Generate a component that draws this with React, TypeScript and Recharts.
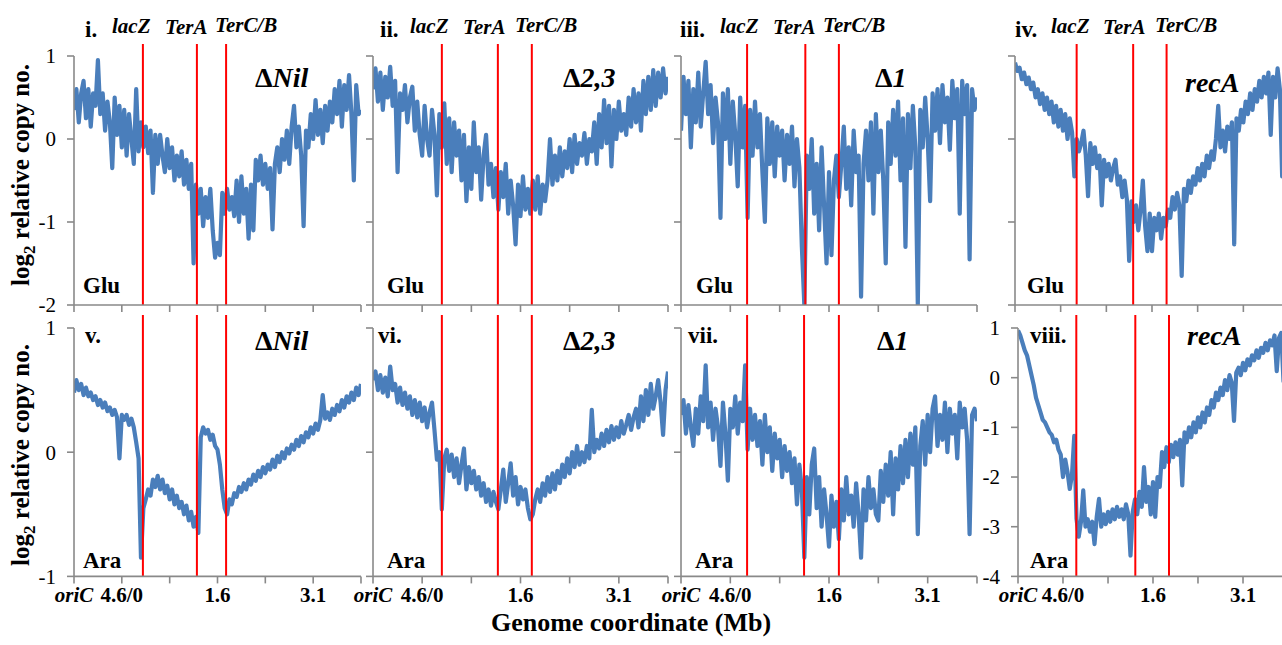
import React from 'react';
import { LineChart, Line, XAxis, YAxis, ReferenceLine } from 'recharts';

// ---------- data ----------
const genomeSpanMb = 4.64; // distance from oriC (Mb)
const xTicks = [0, 0.773, 1.547, 2.32, 3.093, 3.867, 4.64];
const xTickLabels = ['oriC', '4.6/0', '', '1.6', '', '3.1', ''];
const yTicksStd = [-2, -1, 0, 1];
const yTicksAra = [-1, 0, 1];
const yTicksRecAAra = [-4, -3, -2, -1, 0, 1];

// log2 relative copy number, Glu (top row)
const gluNil = [0.35, 0.6, 0.2, 0.55, 0.7, 0.25, 0.6, 0.15, 0.55, 0.4, 0.95, 0.3,
  0.55, 0.1, 0.45, 0.2, -0.35, 0.5, 0.05, 0.4, -0.1, 0.35, -0.2, 0.3, 0.0, -0.3, 0.6, -0.15,
  0.2, -0.1, 0.15, -0.17, 0.1, -0.65, 0.05,
  -0.3, 0.05, -0.2, -0.4, 0.0, -0.35, -0.1, -0.5, -0.2, -0.45, -0.15, -0.55, -0.25, -0.6, -0.3,
  -1.5,
  -0.55, -0.9, -0.6, -1.05, -0.7, -0.95, -0.6, -1.1,
  -1.43, -1.25, -1.4,
  -0.65, -0.9, -0.6, -0.85, -0.7, -0.93,
  -0.5, -1.0, -0.45, -0.9, -0.6, -1.2, -0.55, -1.1,
  -0.25, -0.5, -0.2, -0.55, -0.3, -0.6, -0.35, -1.09,
  -0.3, -0.1, -0.4, 0.0, -0.25, 0.1, -0.3, 0.15, 0.4, -0.1, 0.15, -0.2,
  -1.05,
  0.1, -0.1, 0.3, 0.0, 0.47, 0.05, 0.35, -0.05, 0.4, 0.1, 0.45,
  0.2, 0.6, 0.3, 0.7, 0.15, 0.65, 0.35, 0.77, 0.3, -0.5, 0.65, 0.3, 0.35];
const glu23 = [0.6, 0.85, 0.45, 0.8, 0.35, 0.75, 0.5, 0.87, 0.4, 0.7, -0.4, 0.55, 0.35,
  0.65, 0.2, 0.5, 0.63, 0.1, 0.45, 0.05, -0.2, 0.4, 0.0, -0.2, 0.35, 0.05, -0.68, 0.3,
  -0.1, 0.43, -0.3, 0.25, -0.4, 0.2, -0.2, 0.1, -0.5, 0.05, -0.75,
  -0.1, -0.6, 0.2, -0.4, -0.1, -0.73, -0.2, 0.05, -0.55, -0.3, -0.7, -0.35,
  -0.85, -0.4, -0.7, -0.3, -0.9, -0.5, -0.8, -1.27, -0.55, -0.93, -0.45, -0.85, -0.6, -0.9,
  -0.5, -0.85, -0.45, -0.9, -0.55, -0.75, -0.5, 0.0,
  -0.55, -0.2, -0.5, -0.1, -0.45, -0.15, -0.35, 0.0, -0.4, 0.05, -0.3, -0.05, -0.2, 0.07, -0.3, 0.0, -0.15,
  0.2, -0.3, 0.3, -0.1, 0.47, -0.05, 0.4, -0.33, 0.35, 0.0, 0.45, 0.1, 0.3, 0.05,
  0.5, 0.15, 0.6, 0.2, 0.55, 0.1, 0.7, 0.3, 0.75, 0.35, 0.83, 0.4, 0.8, 0.5, 0.85, 0.55, 0.75];
const glu1 = [0.1, 0.75, 0.3, 0.7, -0.1, 0.6, 0.2, 0.8, 0.15, 0.55, 0.93, 0.3, 0.65, -0.05, 0.5, 0.2,
  -0.95, 0.55, 0.0, 0.6, -0.3, 0.45, 0.05, -0.57, 0.5, -0.1, 0.4, -0.95,
  0.35, -0.2, 0.45, -0.1, 0.3, -0.4, -1.0, 0.25, -0.3, 0.2, -0.45, 0.15, -0.2, 0.1, -0.5, 0.05, -0.3, 0.15, -0.57, 0.0, -0.35,
  -1.3, -2.0,
  -0.2, -0.6, 0.0, -0.9, -0.3, -1.1, -0.1, -0.8, -1.5, -0.4, -1.4, -0.5, -0.2, -0.7,
  -0.3, 0.15, -0.6, -0.1, -0.8, 0.1, -0.4, -0.2, -1.9, -0.3, 0.1,
  -0.5, 0.2, -0.9, 0.3, -0.4, 0.1, -0.5, -1.5, 0.2, -0.3, 0.35, -0.2, 0.45, -0.5, 0.25, -1.3, 0.3, -0.35, 0.4, -0.1, -2.0, 0.35,
  -0.1, 0.5, 0.0, -0.75, 0.55, 0.1, 0.6, -0.05, 0.65, 0.2, 0.5, -0.13, 0.7, 0.25, 0.6, -0.9, 0.7, 0.3, 0.65, -1.45, 0.6, 0.35, 0.5];
const gluRecA = [0.92, 0.82, 0.86, 0.72, 0.8, 0.66, 0.74, 0.6,
  0.68, 0.5, 0.6, 0.42, 0.55, 0.35, 0.5, 0.3, 0.45, 0.2, 0.4, 0.15, 0.35, 0.1, 0.3, 0.0, 0.25, 0.08,
  -0.45,
  0.0, -0.15, -0.05, 0.1, -0.2, -0.69,
  -0.05, -0.3, -0.1, -0.35, -0.2, -0.8, -0.25, -0.45, -0.3, -0.5, -0.35, -0.25, -0.55, -0.45, -0.7, -0.5, -0.73,
  -1.47,
  -0.75, -1.0, -0.8, -1.1, -0.85, -0.5, -1.05, -1.35, -0.9, -1.35, -0.95, -1.1, -0.9, -1.2, -0.95, -1.05,
  -0.85, -0.95, -0.7, -0.85, -0.65, -0.8, -1.65, -0.6, -0.75, -0.5, -0.65, -0.45, -0.55, -0.35, -0.5, -0.3, -0.45, -0.2, -0.35, -0.15, -0.25,
  0.0, 0.4, -0.1, 0.1, -0.15, 0.15, 0.0, 0.2,
  -1.27,
  0.25, 0.1, 0.35, 0.2, 0.45, 0.3, 0.55, 0.35, 0.6, 0.45, 0.7, 0.5, 0.75, 0.55, 0.8, 0.05, 0.75, 0.5, 0.85, 0.6, -0.45, 0.7, 0.8, 0.75];

// log2 relative copy number, Ara (bottom row)
const araNil = [0.48, 0.58, 0.5, 0.55, 0.46, 0.52,
  0.45, 0.48, 0.42, 0.45, 0.38, 0.42, 0.36, 0.4, 0.33, 0.36, 0.3, 0.34, 0.28,
  -0.05,
  0.3, 0.26, 0.3, 0.22, 0.27, 0.2,
  0.08, -0.05, -0.85, -0.45,
  -0.38, -0.3, -0.35, -0.22, -0.28, -0.19,
  -0.3, -0.22, -0.33, -0.27, -0.38, -0.3, -0.42, -0.35, -0.45, -0.4, -0.5, -0.43, -0.55, -0.48, -0.6, -0.52,
  -0.65, 0.12, 0.2,
  0.15, 0.18, 0.1, 0.14, 0.05,
  0.02, -0.1, -0.3, -0.45,
  -0.5, -0.38, -0.42, -0.33, -0.36, -0.28, -0.32,
  -0.25, -0.3, -0.22, -0.26, -0.18, -0.23, -0.15, -0.2, -0.12, -0.17,
  -0.1, -0.14, -0.06, -0.12, -0.03, -0.08, 0.0, -0.05, 0.03, -0.01,
  0.06, 0.02, 0.1, 0.05, 0.13, 0.08, 0.16, 0.12, 0.2, 0.15,
  0.23, 0.18, 0.26, 0.46, 0.27, 0.32, 0.26, 0.35, 0.3, 0.38,
  0.33, 0.42, 0.36, 0.45, 0.4, 0.48, 0.42, 0.52, 0.46, 0.55];
const ara23 = [0.58, 0.65, 0.5, 0.62, 0.48, 0.6, 0.45, 0.69, 0.5,
  0.55, 0.4, 0.52, 0.38, 0.48, 0.35, 0.45, 0.3, 0.42, 0.28, 0.4, 0.25, 0.36, 0.2, 0.32, 0.4, 0.18,
  -0.06, 0.0, -0.46,
  -0.05, 0.02, -0.15, -0.02, -0.2, -0.05, -0.25, -0.1, 0.03, -0.3, -0.12,
  -0.25, -0.15, -0.3, -0.2, -0.35, -0.25, -0.4, -0.3, -0.43, -0.32, -0.4,
  -0.46,
  -0.3, -0.14, -0.4, -0.25, -0.09, -0.35, -0.2, -0.42, -0.28, -0.38, -0.3,
  -0.45, -0.54, -0.5,
  -0.38, -0.3, -0.4, -0.25, -0.35, -0.2, -0.32, -0.17, -0.3, -0.15, -0.25,
  -0.1, -0.2, -0.05, -0.17, 0.0, -0.12, 0.05, -0.1, 0.0, -0.08, 0.05, -0.05, 0.34,
  0.0, 0.1, 0.03, 0.15, 0.05, 0.18, 0.08, 0.21, 0.1, 0.2, 0.12, 0.25, 0.15, 0.22, 0.3, 0.18, 0.28,
  0.35, 0.2, 0.45, 0.25, 0.5, 0.3, 0.55, 0.35, 0.45, 0.58, 0.4, 0.14, 0.5, 0.65];
const ara1 = [0.3, 0.42, 0.15, 0.38, 0.2, 0.05, 0.35, 0.15, 0.45, 0.25, 0.7, 0.2, 0.4, 0.1, 0.35, 0.2, -0.11, 0.4, 0.15, -0.23, 0.35, 0.2, 0.45, 0.15, 0.4, 0.25,
  0.7, 0.02,
  0.35, 0.1, 0.3, 0.05, 0.25, -0.1, 0.3, 0.0, 0.2, -0.15, 0.15, -0.05, 0.1, -0.2, 0.05, -0.15, 0.0, -0.25, -0.05, -0.42, -0.1, -0.3,
  -0.85,
  -0.2, -0.5, -0.1, 0.03, -0.45, -0.2, -0.6, -0.3, -0.5, -0.76, -0.35, -0.6, -0.4, -0.7,
  -0.3, -0.55, -0.2, -0.5, -0.35, -0.6, -0.25, -0.5, -0.85, -0.3, -0.55, -0.2, -0.45, -0.3, -0.5,
  -0.55, -0.15, -0.4, -0.1, -0.35, 0.0, -0.5, -0.05, -0.3, 0.05, -0.25, 0.1, -0.2, 0.15, -0.1, 0.2, -0.66, 0.05, 0.25, -0.1, 0.3,
  0.0, 0.35, 0.45, 0.05, 0.3, 0.1, 0.4, 0.0, 0.35, 0.15, 0.3, -0.05, 0.4, 0.2, 0.35, 0.1, -0.66, 0.3, 0.35, 0.25];
const araRecA = [0.95, 0.85, 0.7, 0.55, 0.45,
  0.25, 0.05, -0.15, -0.4, -0.55, -0.7,
  -0.85, -0.9, -1.0, -1.1, -1.15, -1.3, -1.25, -1.45,
  -1.55, -2.0, -1.65, -1.9, -2.24, -1.95,
  -1.17,
  -2.84, -3.2, -2.9,
  -2.27, -3.0, -2.85, -3.1, -2.9, -3.35, -2.8, -2.44, -3.0, -2.75, -2.95, -2.7, -2.9, -2.65, -2.85, -2.6, -2.8, -2.65, -2.85, -2.55, -2.75,
  -3.58, -2.7,
  -2.45, -2.75, -2.3, -2.6, -1.8, -2.5, -2.2, -2.75, -2.1, -2.8, -2.0, -2.2,
  -1.5, -1.8, -1.4, -1.7, -1.35, -1.6, -1.3, -1.55, -1.25, -2.17,
  -1.1, -1.3, -1.0, -1.2, -0.9, -1.1, -0.8, -1.0, -0.7, -0.9, -0.6, -0.75, -0.45,
  -0.6, -0.3, -0.45, -0.2, -0.35, -0.05, -0.25, 0.05, -0.1, -0.87,
  0.1, 0.2, 0.05, 0.3, 0.15, 0.37, 0.25, 0.45, 0.35, 0.55, 0.4, 0.6, 0.5, 0.7, 0.55, 0.75, 0.65, 0.85, 0.13, 0.8, 0.9, -0.07, 0.85, 0.9];

// lacZ, TerA, TerC/B positions (Mb from oriC)
const markersCol1 = [1.114, 1.987, 2.459];
const markersCol2 = [1.083, 1.964, 2.498];
const markersCol3 = [1.036, 1.949, 2.475];
const markersCol3Ara = [1.036, 1.929, 2.475];
const markersRecAGlu = [1.044, 2.001, 2.567];
const markersRecAAra = [1.002, 2.016, 2.595];

const panelNumerals = [['i.', 'v.'], ['ii.', 'vi.'], ['iii.', 'vii.'], ['iv.', 'viii.']];
const strainLabels = ['ΔNil', 'Δ2,3', 'Δ1', 'recA'];
const markerNames = ['lacZ', 'TerA', 'TerC/B'];
const mediaLabels = ['Glu', 'Ara'];

// ---------- styles ----------
const FONT = '"Liberation Serif", "Times New Roman", Times, serif';
const BLUE = '#4a7ebb';
const AXIS = '#898989';

type PanelCfg = {
  values: number[];
  markers: number[];
  yDomain: [number, number];
  yTicks: number[];
  markerTop: number;
  left: number;
  top: number;
  width: number;
  height: number;
  bottomRow: boolean;
  showYLabels: boolean;
};

const XTick = (props: any) => {
  const { x, y, payload } = props;
  const label = xTickLabels[payload.index] ?? '';
  if (!label) return <g />;
  const italic = label === 'oriC';
  return (
    <text x={x} y={y} dy="0.8em" textAnchor="middle" fontFamily={FONT} fontSize={21} fontWeight="bold" fontStyle={italic ? 'italic' : 'normal'} fill="#000">
      {label}
    </text>
  );
};
const EmptyTick = () => <g />;

const ML = 60;
const MT = 22;
const MR = 6;
const XH = 44;

function Panel({ cfg }: { cfg: PanelCfg }) {
  const n = cfg.values.length;
  const data = cfg.values.map((v, i) => ({ x: (i * genomeSpanMb) / (n - 1), y: v }));
  return (
    <div style={{ position: 'absolute', left: cfg.left - ML, top: cfg.top - MT }}>
      <LineChart width={ML + cfg.width + MR} height={MT + cfg.height + XH} data={data} margin={{ top: MT, right: MR, bottom: 0, left: 0 }}>
        <XAxis
          type="number"
          dataKey="x"
          domain={[0, genomeSpanMb]}
          ticks={xTicks}
          interval={0}
          height={XH}
          allowDataOverflow
          axisLine={{ stroke: AXIS, strokeWidth: 1.6 }}
          tickLine={{ stroke: AXIS, strokeWidth: 1.6 }}
          tickSize={7}
          tickMargin={2}
          tick={cfg.bottomRow ? <XTick /> : <EmptyTick />}
        />
        <YAxis
          type="number"
          domain={cfg.yDomain}
          ticks={cfg.yTicks}
          interval={0}
          width={ML}
          allowDataOverflow
          axisLine={{ stroke: AXIS, strokeWidth: 1.6 }}
          tickLine={{ stroke: AXIS, strokeWidth: 1.6 }}
          tickSize={7}
          tickMargin={11}
          tick={cfg.showYLabels ? { fontFamily: FONT, fontSize: 21, fill: '#000' } : <EmptyTick />}
        />
        <Line type="linear" dataKey="y" stroke={BLUE} strokeWidth={4.2} strokeLinejoin="round" dot={false} isAnimationActive={false} />
        {cfg.markers.map((m) => (
          <ReferenceLine
            key={m}
            segment={[{ x: m, y: cfg.yDomain[0] }, { x: m, y: cfg.markerTop }]}
            stroke="#ff0000"
            strokeWidth={2}
            ifOverflow="visible"
          />
        ))}
      </LineChart>
    </div>
  );
}

const TOP = 56;
const BOT = 328.3;
const TOP_H = 249;
const BOT_H = 248.4;

const panels: PanelCfg[] = [
  { values: gluNil, markers: markersCol1, yDomain: [-2, 1], yTicks: yTicksStd, markerTop: 1.145, left: 74, top: TOP, width: 287, height: TOP_H, bottomRow: false, showYLabels: true },
  { values: glu23, markers: markersCol2, yDomain: [-2, 1], yTicks: yTicksStd, markerTop: 1.145, left: 373.3, top: TOP, width: 295, height: TOP_H, bottomRow: false, showYLabels: false },
  { values: glu1, markers: markersCol3, yDomain: [-2, 1], yTicks: yTicksStd, markerTop: 1.145, left: 680.7, top: TOP, width: 296, height: TOP_H, bottomRow: false, showYLabels: false },
  { values: gluRecA, markers: markersRecAGlu, yDomain: [-2, 1], yTicks: yTicksStd, markerTop: 1.145, left: 1015, top: TOP, width: 274, height: TOP_H, bottomRow: false, showYLabels: false },
  { values: araNil, markers: markersCol1, yDomain: [-1, 1], yTicks: yTicksAra, markerTop: 1.105, left: 74, top: BOT, width: 287, height: BOT_H, bottomRow: true, showYLabels: true },
  { values: ara23, markers: markersCol2, yDomain: [-1, 1], yTicks: yTicksAra, markerTop: 1.105, left: 373.3, top: BOT, width: 295, height: BOT_H, bottomRow: true, showYLabels: false },
  { values: ara1, markers: markersCol3Ara, yDomain: [-1, 1], yTicks: yTicksAra, markerTop: 1.105, left: 680.7, top: BOT, width: 296, height: BOT_H, bottomRow: true, showYLabels: false },
  { values: araRecA, markers: markersRecAAra, yDomain: [-4, 1], yTicks: yTicksRecAAra, markerTop: 1.26, left: 1018.3, top: BOT, width: 270, height: BOT_H, bottomRow: true, showYLabels: true },
];

// annotation placement
const numeralX = [[85, 85], [380, 378], [680, 688], [1015, 1030]];
const numeralY = [37, 343];
const markerNameX = [[112, 165, 215], [410, 463, 515], [720, 773, 823], [1051, 1103, 1155]];
const markerNameY = [33, 34, 32];
const strainX = [[255, 255], [563, 563], [875, 877], [1185, 1187]];
const strainY = [[87, 350], [87, 350], [87, 350], [92, 345]];
const mediaX = [[83, 83], [387, 387], [696, 695], [1027, 1030]];
const mediaY = [293, 568];

function StrainText({ label, x, y }: { label: string; x: number; y: number }) {
  const hasDelta = label.startsWith('Δ');
  return (
    <text x={x} y={y} fontFamily={FONT} fontSize={28} fontWeight="bold" fill="#000">
      {hasDelta ? <tspan fontStyle="normal">Δ</tspan> : null}
      <tspan fontStyle="italic">{hasDelta ? label.slice(1) : label}</tspan>
    </text>
  );
}

function YTitle({ cy }: { cy: number }) {
  return (
    <text x={28.5} y={cy} transform={`rotate(-90 28.5 ${cy})`} textAnchor="middle" fontFamily={FONT} fontSize={25} fontWeight="bold" fill="#000">
      log<tspan fontSize={17} dy={6}>2</tspan>
      <tspan dy={-6}> relative copy no.</tspan>
    </text>
  );
}

export default function App() {
  return (
    <div style={{ position: 'fixed', left: 0, top: 0, width: 1282, height: 645, overflow: 'hidden', background: '#fff' }}>
      {panels.map((p, i) => (
        <Panel key={i} cfg={p} />
      ))}
      <svg width={1282} height={645} style={{ position: 'absolute', left: 0, top: 0, pointerEvents: 'none' }}>
        {panelNumerals.map((pair, c) =>
          pair.map((t, r) => (
            <text key={`n${c}${r}`} x={numeralX[c][r]} y={numeralY[r]} fontFamily={FONT} fontSize={23} fontWeight="bold" fill="#000">
              {t}
            </text>
          ))
        )}
        {markerNameX.map((xs, c) =>
          xs.map((x, k) => (
            <text key={`m${c}${k}`} x={x} y={markerNameY[k]} fontFamily={FONT} fontSize={21} fontWeight="bold" fontStyle="italic" fill="#000">
              {markerNames[k]}
            </text>
          ))
        )}
        {strainLabels.map((s, c) =>
          [0, 1].map((r) => <StrainText key={`s${c}${r}`} label={s} x={strainX[c][r]} y={strainY[c][r]} />)
        )}
        {mediaX.map((xs, c) =>
          xs.map((x, r) => (
            <text key={`g${c}${r}`} x={x} y={mediaY[r]} fontFamily={FONT} fontSize={23} fontWeight="bold" fill="#000">
              {mediaLabels[r]}
            </text>
          ))
        )}
        <YTitle cy={175} />
        <YTitle cy={455} />
        <text x={631} y={631} textAnchor="middle" fontFamily={FONT} fontSize={26} fontWeight="bold" fill="#000">
          Genome coordinate (Mb)
        </text>
      </svg>
    </div>
  );
}
